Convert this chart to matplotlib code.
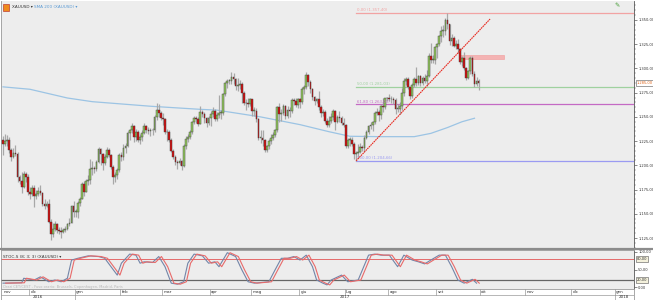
import numpy as np
import pandas as pd
import matplotlib
matplotlib.use("Agg")
import matplotlib.pyplot as plt
from matplotlib.patches import Rectangle
from matplotlib.transforms import blended_transform_factory

# ---- XAUUSD daily candles, 14 Nov 2016 -> 29 Sep 2017 ----
first_open = 1226
closes = [
    # nov 2016
    1222, 1225, 1226, 1216, 1209, 1213, 1212, 1188, 1184, 1178, 1191, 1188, 1173,
    # dic
    1170, 1177, 1168, 1170, 1174, 1171, 1160, 1158, 1160, 1142, 1129, 1134, 1139, 1133, 1132,
    1131, 1133, 1134, 1139, 1141, 1158, 1152,
    # gen 2017
    1152, 1161, 1165, 1181, 1173, 1184, 1185, 1196, 1197, 1196, 1203, 1217, 1212, 1202, 1209,
    1216, 1211, 1198, 1188, 1190, 1195, 1211,
    # feb
    1209, 1218, 1220, 1233, 1236, 1241, 1229, 1234, 1226, 1229, 1233, 1241, 1236, 1235, 1236,
    1236, 1250, 1257, 1254, 1249,
    # mar
    1248, 1234, 1234, 1226, 1215, 1209, 1203, 1202, 1204, 1199, 1220, 1227, 1229, 1234, 1245,
    1249, 1248, 1243, 1255, 1253, 1249, 1244, 1249,
    # apr
    1253, 1256, 1248, 1252, 1254, 1254, 1274, 1285, 1287, 1287, 1291, 1289, 1282, 1283, 1284,
    1275, 1264, 1264, 1263, 1268,
    # mag
    1256, 1256, 1248, 1228, 1228, 1226, 1216, 1220, 1225, 1228, 1231, 1236, 1260, 1253, 1254,
    1261, 1251, 1257, 1256, 1267, 1266, 1262, 1268,
    # giu
    1265, 1279, 1281, 1293, 1286, 1279, 1271, 1266, 1268, 1260, 1254, 1255, 1246, 1242, 1246,
    1250, 1256, 1245, 1250, 1249, 1244, 1242,
    # lug
    1220, 1226, 1226, 1222, 1212, 1213, 1214, 1219, 1218, 1228, 1234, 1241, 1242, 1245, 1254,
    1255, 1252, 1261, 1260, 1269, 1269,
    # ago
    1268, 1268, 1267, 1258, 1258, 1261, 1275, 1287, 1289, 1281, 1272, 1283, 1289, 1285, 1292,
    1285, 1290, 1287, 1292, 1313, 1309, 1309, 1322,
    # set
    1325, 1333, 1339, 1339, 1350, 1346, 1328, 1331, 1323, 1325, 1320, 1307, 1311, 1300, 1290,
    1297, 1311, 1294, 1284, 1287, 1285,
]
highs = [
    1230, 1232, 1231, 1229, 1218, 1218, 1221, 1214, 1190, 1193, 1194, 1193, 1191,
    1178, 1180, 1180, 1175, 1178, 1180, 1173, 1165, 1163, 1165, 1145, 1140, 1143, 1141, 1136,
    1136, 1135, 1137, 1141, 1146, 1159, 1163,
    1155, 1163, 1167, 1183, 1184, 1186, 1190, 1207, 1204, 1199, 1205, 1219, 1218, 1213, 1212,
    1219, 1218, 1212, 1200, 1193, 1197, 1213,
    1214, 1222, 1223, 1235, 1237, 1244, 1242, 1238, 1236, 1232, 1236, 1244, 1242, 1240, 1239,
    1239, 1252, 1264, 1263, 1256,
    1254, 1249, 1238, 1236, 1228, 1217, 1211, 1206, 1208, 1206, 1222, 1230, 1232, 1236, 1246,
    1251, 1251, 1250, 1261, 1257, 1255, 1250, 1251,
    1256, 1260, 1258, 1255, 1273, 1257, 1275, 1286, 1289, 1289, 1296, 1295, 1290, 1290, 1288,
    1286, 1277, 1268, 1269, 1270,
    1268, 1260, 1259, 1249, 1236, 1236, 1227, 1221, 1227, 1232, 1234, 1237, 1261, 1264, 1258,
    1263, 1262, 1261, 1260, 1269, 1269, 1269, 1270,
    1270, 1281, 1283, 1296, 1294, 1288, 1280, 1272, 1270, 1277, 1262, 1258, 1257, 1249, 1251,
    1254, 1258, 1257, 1252, 1256, 1251, 1249,
    1243, 1228, 1229, 1229, 1224, 1215, 1222, 1223, 1221, 1231, 1236, 1242, 1245, 1246, 1256,
    1259, 1257, 1262, 1270, 1270, 1271,
    1274, 1272, 1271, 1270, 1263, 1265, 1280, 1290, 1291, 1291, 1281, 1285, 1291, 1301, 1293,
    1293, 1292, 1294, 1298, 1316, 1326, 1314, 1323,
    1326, 1334, 1344, 1345, 1352, 1357.4, 1339, 1336, 1333, 1329, 1330, 1321, 1313, 1317, 1301,
    1298, 1313, 1313, 1297, 1291, 1289,
]
lows = [
    1211, 1220, 1220, 1213, 1204, 1208, 1210, 1183, 1181, 1171, 1177, 1183, 1169,
    1165, 1168, 1157, 1165, 1168, 1169, 1158, 1155, 1157, 1140, 1123, 1126, 1132, 1130, 1129,
    1125, 1130, 1131, 1133, 1137, 1140, 1147,
    1147, 1146, 1158, 1165, 1168, 1172, 1180, 1181, 1190, 1192, 1194, 1202, 1200, 1195, 1200,
    1208, 1209, 1196, 1181, 1183, 1186, 1193,
    1204, 1206, 1213, 1219, 1226, 1233, 1224, 1225, 1224, 1222, 1225, 1232, 1233, 1232, 1230,
    1231, 1234, 1247, 1250, 1247,
    1242, 1232, 1225, 1224, 1214, 1207, 1200, 1196, 1200, 1195, 1198, 1217, 1224, 1227, 1232,
    1243, 1244, 1241, 1243, 1250, 1244, 1240, 1242,
    1241, 1250, 1246, 1246, 1249, 1248, 1252, 1272, 1280, 1284, 1284, 1284, 1278, 1277, 1279,
    1264, 1262, 1257, 1260, 1261,
    1251, 1251, 1245, 1226, 1223, 1220, 1214, 1214, 1217, 1222, 1226, 1229, 1234, 1245, 1246,
    1252, 1248, 1249, 1250, 1254, 1262, 1260, 1259,
    1259, 1263, 1274, 1279, 1282, 1275, 1267, 1262, 1264, 1257, 1250, 1251, 1244, 1240, 1240,
    1244, 1247, 1236, 1244, 1245, 1242, 1240,
    1218, 1218, 1220, 1220, 1207, 1204.66, 1208, 1213, 1215, 1214, 1227, 1232, 1238, 1235, 1243,
    1252, 1246, 1248, 1255, 1258, 1266,
    1266, 1264, 1263, 1253, 1255, 1253, 1257, 1272, 1283, 1279, 1268, 1269, 1281, 1282, 1283,
    1282, 1283, 1285, 1282, 1291, 1306, 1306, 1305,
    1311, 1323, 1327, 1332, 1335, 1341, 1324, 1323, 1322, 1320, 1316, 1305, 1303, 1298, 1288,
    1289, 1294, 1292, 1281, 1282, 1278,
]

# SMA 200 read at a few bar positions
sma_idx = [0, 13, 31, 43, 71, 95, 103, 124, 143, 157, 167, 182, 198, 206, 214, 221, 227]
sma_val = [1281, 1278.5, 1269.5, 1265.7, 1261, 1257.8, 1257, 1250, 1242, 1234.7, 1230,
           1229.6, 1229.6, 1233, 1239, 1245, 1248.6]

# Slow stochastic %K
stoch_idx = [0, 9, 10, 15, 18, 22, 25, 28, 31, 33, 36, 41, 46, 49, 52, 55, 57, 61, 64, 66,
             68, 72, 75, 78, 81, 84, 87, 89, 92, 96, 99, 102, 104, 108, 112, 115, 118, 121, 128, 131,
             134, 137, 140, 143, 146, 149, 151, 154, 156, 158, 163, 166, 171, 176, 179, 182, 186, 190, 193, 197,
             200, 203, 206, 210, 213, 216, 219, 222, 226, 228]
stoch_k = [11, 12, 25, 20, 29, 15, 20, 15, 25, 77, 82, 89, 87, 82, 58, 34, 68, 94, 91, 68,
           72, 70, 87, 58, 11, 8, 15, 68, 94, 89, 68, 72, 58, 98, 87, 49, 15, 11, 15, 49,
           82, 82, 87, 77, 91, 58, 20, 11, 6, 20, 34, 15, 20, 91, 94, 91, 91, 58, 91, 77,
           72, 66, 77, 91, 91, 58, 20, 11, 22, 11]

# Fibonacci retracement (swing low 10 Jul -> swing high 8 Sep)
swing_low, swing_high = 1204.66, 1357.40
swing_low_idx = 170
fib_levels = [0.0, 50.0, 61.8, 100.0]
fib_colors = ["#f2a3a3", "#9fd19f", "#c46ac4", "#9b9bf2"]

# drawn objects
trend_start = (170, 1204.66)
trend_end = (234.5, 1351.0)
resist_box = (220, 241, 1310.0, 1313.5)

month_names = ["gen", "feb", "mar", "apr", "mag", "giu", "lug", "ago", "set", "ott", "nov", "dic"]

# ---- helpers ----
def it_num(v):
    s = f"{v:,.2f}"
    return s.replace(",", "X").replace(".", ",").replace("X", ".")

W, H = 653, 300
def px_box(l, t, r, b):
    return [l / W, 1 - b / H, (r - l) / W, (b - t) / H]

bg = "#ededed"
xlim = (-0.96, 303.8)
lab_fs = 2.6

fig = plt.figure(figsize=(W / 100, H / 100), dpi=100, facecolor="white")
ax = fig.add_axes(px_box(1, 1, 634, 248), facecolor=bg)
ax_s = fig.add_axes(px_box(1, 250, 634, 289), facecolor=bg)
ax_d = fig.add_axes(px_box(1, 289, 634, 300), facecolor="white")

for a in (ax, ax_s, ax_d):
    a.set_xlim(*xlim)
    a.set_xticks([])
    for sp in a.spines.values():
        sp.set_color("#9a9a9a")
        sp.set_linewidth(0.6)

# ---- main panel ----
c = np.array(closes, dtype=float)
o = np.array([first_open] + closes[:-1], dtype=float)
h = np.maximum(np.array(highs, dtype=float), np.maximum(o, c))
l = np.minimum(np.array(lows, dtype=float), np.minimum(o, c))
idx = np.arange(len(c))
up = c >= o

ax.vlines(idx, l, h, color="#a8a8a8", lw=0.9, zorder=2)
body = np.abs(c - o)
body = np.where(body < 0.8, 0.8, body)
bot = np.minimum(o, c)
ax.bar(idx[up], body[up], bottom=bot[up], width=0.8, color="#94c95e",
       edgecolor="#3d3d3d", lw=0.3, zorder=3)
ax.bar(idx[~up], body[~up], bottom=bot[~up], width=0.8, color="#d40f0f",
       edgecolor="#3d3d3d", lw=0.3, zorder=3)

ax.plot(sma_idx, sma_val, color="#9cc4e4", lw=0.9, zorder=1)

# fibonacci
for lvl, col in zip(fib_levels, fib_colors):
    price = swing_high - (swing_high - swing_low) * lvl / 100
    ax.plot([swing_low_idx, xlim[1]], [price, price], color=col, lw=0.9, zorder=1)
    ax.text(swing_low_idx + 0.6, price + 0.8, f"{lvl:.2f}".replace(".", ",") + f" ({it_num(price)})",
            fontsize=2.8, color=col, va="bottom", ha="left", zorder=4)

# trendline and resistance zone
ax.plot([trend_start[0], trend_end[0]], [trend_start[1], trend_end[1]], color="#e8281e",
        lw=0.8, ls=(0, (1.5, 0.6)), zorder=4)
x0, x1, p0, p1 = resist_box
ax.add_patch(Rectangle((x0, p0), x1 - x0, p1 - p0, facecolor="#f4b3b3", edgecolor="#f09a9a",
                       lw=0.4, zorder=1))

ax.set_ylim(1114.7, 1369.6)
ax.yaxis.tick_right()
ax.set_yticks(np.arange(1125, 1351, 25))
ax.set_yticklabels([it_num(v) for v in np.arange(1125, 1351, 25)])
ax.set_yticks(np.arange(1115, 1370, 5), minor=True)
ax.tick_params(axis="y", which="major", labelsize=lab_fs, length=2.2, width=0.4, pad=0.8,
               colors="#333333")
ax.tick_params(axis="y", which="minor", length=1.2, width=0.3, colors="#555555")
ax.spines["right"].set_color("#555555")
ax.spines["top"].set_visible(False)

tr = blended_transform_factory(ax.transAxes, ax.transData)
ax.text(1.004, c[-1], it_num(c[-1]), transform=tr, fontsize=lab_fs, color="#e0661a",
        va="center", ha="left", clip_on=False,
        bbox=dict(boxstyle="square,pad=0.2", fc="white", ec="#555555", lw=0.4))

# legend row
ax.add_patch(Rectangle((2 / 633, 1 - 10 / 247), 6 / 633, 7 / 247, transform=ax.transAxes,
                       facecolor="#f08a1c", edgecolor="#b02020", lw=0.4))
ax.text(11 / 633, 1 - 6 / 247, "XAUUSD ▾", transform=ax.transAxes, fontsize=3.0,
        color="#333333", va="center", ha="left")
ax.text(33 / 633, 1 - 6 / 247, "SMA 200 (XAUUSD) ▾", transform=ax.transAxes, fontsize=3.0,
        color="#5a9ad4", va="center", ha="left")
ax.text(616 / 633, 1 - 5 / 247, "✎", transform=ax.transAxes, fontsize=4.5,
        color="#3f9a2e", va="center", ha="center")

# ---- stochastic panel ----
ax_s.plot(stoch_idx, stoch_k, color="#7385a8", lw=0.8, zorder=3)
ax_s.plot(np.array(stoch_idx) + 1.3, stoch_k, color="#e86a6a", lw=0.8, zorder=3)
ax_s.axhline(80, color="#e46a6a", lw=0.7, zorder=2)
ax_s.axhline(20, color="#666666", lw=0.9, zorder=2)
ax_s.set_ylim(-5.7, 105.7)
ax_s.yaxis.tick_right()
ax_s.set_yticks([0, 50, 100])
ax_s.set_yticklabels([it_num(v) for v in [0, 50, 100]])
ax_s.tick_params(axis="y", labelsize=lab_fs, length=2.2, width=0.4, pad=0.8, colors="#333333")
ax_s.spines["right"].set_color("#555555")
trs = blended_transform_factory(ax_s.transAxes, ax_s.transData)
for v in (80, 20):
    ax_s.text(1.004, v, it_num(v), transform=trs, fontsize=lab_fs, color="#333333",
              va="center", ha="left", clip_on=False,
              bbox=dict(boxstyle="square,pad=0.2", fc="#f4f1dc", ec="#555555", lw=0.4))
ax_s.text(2 / 633, 0.82, "STOC-S (8; 3; 3) (XAUUSD) ▾", transform=ax_s.transAxes,
          fontsize=3.0, color="#333333", va="center", ha="left")
ax_s.text(2 / 633, 0.06, "Orari CET/CEST - Fuso orario: Brussels, Copenhagen, Madrid, Paris",
          transform=ax_s.transAxes, fontsize=2.6, color="#b8b8b8", va="center", ha="left")

# separator between panels
fig.add_artist(plt.Line2D([1 / W, 1], [1 - 249 / H] * 2, transform=fig.transFigure,
                          color="#8c8c8c", lw=1.6))

# ---- date axis ----
dates = pd.bdate_range("2016-11-14", periods=306)
ax_d.set_ylim(0, 1)
ax_d.set_yticks([])
ax_d.axhline(0.5, color="#9a9a9a", lw=0.5)
ax_d.text(0.2, 0.75, month_names[dates[0].month - 1], fontsize=3.0, color="#333333",
          va="center", ha="left")
year_bounds = [xlim[0]]
for i in range(1, len(dates)):
    if dates[i].month != dates[i - 1].month:
        ax_d.plot([i - 0.5, i - 0.5], [0.5, 1], color="#9a9a9a", lw=0.5)
        ax_d.text(i + 0.2, 0.75, month_names[dates[i].month - 1], fontsize=3.0,
                  color="#333333", va="center", ha="left")
    if dates[i].year != dates[i - 1].year:
        ax_d.plot([i - 0.5, i - 0.5], [0, 0.5], color="#9a9a9a", lw=0.5)
        year_bounds.append(i - 0.5)
year_bounds.append(xlim[1])
for k in range(len(year_bounds) - 1):
    yr = dates[int(max(0, np.ceil(year_bounds[k])))].year
    ax_d.text((year_bounds[k] + year_bounds[k + 1]) / 2, 0.25, str(yr), fontsize=3.0,
              color="#333333", va="center", ha="center")

fig.savefig("out.png", dpi=100, facecolor="white")
